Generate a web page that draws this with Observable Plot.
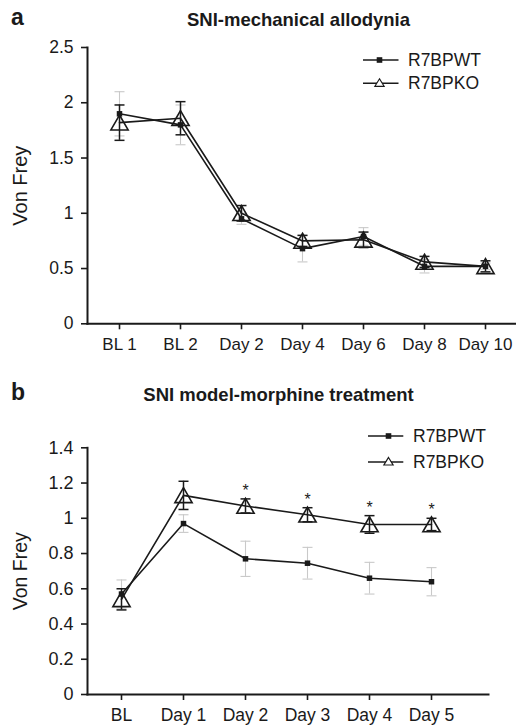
<!DOCTYPE html>
<html>
<head>
<meta charset="utf-8">
<script src="https://cdn.jsdelivr.net/npm/d3@7"></script>
<script src="https://cdn.jsdelivr.net/npm/@observablehq/plot@0.6"></script>
<style>
  html, body { margin: 0; padding: 0; background: #fff; }
  #wrap { position: relative; width: 516px; height: 726px; font-family: "Liberation Sans", Arial, Helvetica, sans-serif; color: #1a1a1a; }
  #wrap > svg { position: absolute; left: 0; }
</style>
</head>
<body>
<div id="wrap"></div>
<script>
// ---------- Panel a data ----------
const catsA = ["BL 1", "BL 2", "Day 2", "Day 4", "Day 6", "Day 8", "Day 10"];
const wtA    = [1.90, 1.80, 0.95, 0.68, 0.79, 0.52, 0.52];
const wtErrA = [0.20, 0.18, 0.05, 0.12, 0.08, 0.06, 0.03];
const koA    = [1.82, 1.86, 1.00, 0.75, 0.76, 0.56, 0.52];
const koErrA = [0.16, 0.15, 0.07, 0.05, 0.07, 0.05, 0.05];
const yTicksA = [0, 0.5, 1, 1.5, 2, 2.5];

// ---------- Panel b data ----------
const catsB = ["BL", "Day 1", "Day 2", "Day 3", "Day 4", "Day 5"];
const wtB    = [0.57, 0.97, 0.77, 0.745, 0.66, 0.64];
const wtErrB = [0.08, 0.05, 0.10, 0.09, 0.09, 0.08];
const koB    = [0.54, 1.13, 1.07, 1.02, 0.965, 0.965];
const koErrB = [0.06, 0.08, 0.04, 0.04, 0.05, 0.035];
const starsB = ["", "", "*", "*", "*", "*"];
const yTicksB = [0, 0.2, 0.4, 0.6, 0.8, 1, 1.2, 1.4];

const seriesNames = ["R7BPWT", "R7BPKO"];
const titles = ["SNI-mechanical allodynia", "SNI model-morphine treatment"];
const panelLetters = ["a", "b"];
const yLabel = "Von Frey";

const INK = "#1a1a1a";
const GREY = "#c9c9c9";
const FONT = "Liberation Sans, Arial, Helvetica, sans-serif";

// horizontal cap symbol for error bars
const capSymbol = {draw(ctx) { ctx.moveTo(-5, 0); ctx.lineTo(5, 0); }};

function rowsOf(cats, wt, wtErr, ko, koErr, stars) {
  return cats.map((c, i) => ({cat: c, wt: wt[i], wtErr: wtErr[i], ko: ko[i], koErr: koErr[i], star: stars ? stars[i] : ""}));
}

function panel(rows, cats, yDomain, yTicks, opts) {
  return Plot.plot({
    width: 516,
    height: opts.height,
    marginLeft: 87,
    marginRight: opts.marginRight,
    marginTop: opts.marginTop,
    marginBottom: opts.marginBottom,
    style: {fontFamily: FONT, fontSize: "17px", color: INK, background: "transparent", overflow: "visible"},
    x: {type: "point", domain: cats, range: opts.xRange, padding: 0},
    y: {domain: yDomain},
    marks: [
      Plot.axisX({tickSize: 6, tickPadding: 8, label: null, strokeWidth: 1.6, fontSize: opts.xFont}),
      Plot.axisY({ticks: yTicks, tickFormat: d => String(d), tickSize: 6, tickPadding: 8, label: null, strokeWidth: 1.6, fontSize: opts.yFont}),
      Plot.frame({anchor: "left", stroke: INK, strokeWidth: 2}),
      Plot.frame({anchor: "bottom", stroke: INK, strokeWidth: 2}),
      Plot.text([yLabel], {frameAnchor: "left", dx: -67, rotate: -90, textAnchor: "middle", lineAnchor: "middle", fontSize: opts.labelFont, fill: INK}),
      // WT error bars (light grey)
      Plot.ruleX(rows, {x: "cat", y1: d => d.wt - d.wtErr, y2: d => d.wt + d.wtErr, stroke: GREY, strokeWidth: 1.1}),
      Plot.dot(rows, {x: "cat", y: d => d.wt + d.wtErr, symbol: capSymbol, fill: "none", stroke: GREY, strokeWidth: 1.1}),
      Plot.dot(rows, {x: "cat", y: d => d.wt - d.wtErr, symbol: capSymbol, fill: "none", stroke: GREY, strokeWidth: 1.1}),
      // KO error bars (black)
      Plot.ruleX(rows, {x: "cat", y1: d => d.ko - d.koErr, y2: d => d.ko + d.koErr, stroke: INK, strokeWidth: 1.5}),
      Plot.dot(rows, {x: "cat", y: d => d.ko + d.koErr, symbol: capSymbol, fill: "none", stroke: INK, strokeWidth: 1.5}),
      Plot.dot(rows, {x: "cat", y: d => d.ko - d.koErr, symbol: capSymbol, fill: "none", stroke: INK, strokeWidth: 1.5}),
      // lines
      Plot.line(rows, {x: "cat", y: "wt", stroke: INK, strokeWidth: 1.6}),
      Plot.line(rows, {x: "cat", y: "ko", stroke: INK, strokeWidth: 1.6}),
      // markers
      Plot.dot(rows, {x: "cat", y: "wt", symbol: "square", r: 3.1, fill: INK, stroke: "none"}),
      Plot.dot(rows, {x: "cat", y: "ko", symbol: "triangle", r: 6.4, fill: "none", stroke: INK, strokeWidth: 1.6, dy: 2.3}),
      // significance stars
      Plot.text(rows, {x: "cat", y: d => d.ko + d.koErr, text: "star", dy: -8, fontSize: 16, fill: INK, lineAnchor: "middle"})
    ]
  });
}

const wrap = document.getElementById("wrap");

const rowsA = rowsOf(catsA, wtA, wtErrA, koA, koErrA, null);
const chartA = panel(rowsA, catsA, [0, 2.5], yTicksA, {
  height: 360, marginTop: 47, marginBottom: 36.7, marginRight: 1, xRange: [117, 486],
  xFont: 17, yFont: 17.5, labelFont: 20
});
chartA.style.top = "0px";
wrap.appendChild(chartA);

const rowsB = rowsOf(catsB, wtB, wtErrB, koB, koErrB, starsB);
const chartB = panel(rowsB, catsB, [0, 1.4], yTicksB, {
  height: 366, marginTop: 87.3, marginBottom: 32, marginRight: 28, xRange: [119, 433],
  xFont: 17.5, yFont: 18, labelFont: 19.5
});
chartB.style.top = "360px";
wrap.appendChild(chartB);

// ---------- titles, panel letters and legends (overlay) ----------
const overlay = d3.create("svg")
  .attr("width", 516).attr("height", 726)
  .style("top", "0px").style("pointer-events", "none")
  .attr("font-family", FONT).attr("fill", INK);

const titleSpecs = [
  {letterY: 25, titleX: 298.5, titleY: 25.5},
  {letterY: 400, titleX: 278.5, titleY: 400.5}
];
titleSpecs.forEach((s, i) => {
  overlay.append("text").attr("x", 11).attr("y", s.letterY)
    .attr("font-size", 23).attr("font-weight", "bold").text(panelLetters[i]);
  overlay.append("text").attr("x", s.titleX).attr("y", s.titleY)
    .attr("text-anchor", "middle").attr("font-size", 18.5).attr("font-weight", "bold").text(titles[i]);
});

const legendSpecs = [
  {rows: [60, 83.3], x1: 363, x2: 398.5, mx: 379.5, tx: 408},
  {rows: [436, 462], x1: 368, x2: 403.3, mx: 388.5, tx: 413}
];
legendSpecs.forEach(L => {
  seriesNames.forEach((name, j) => {
    const y = L.rows[j];
    const g = overlay.append("g");
    g.append("line").attr("x1", L.x1).attr("x2", L.x2).attr("y1", y).attr("y2", y)
      .attr("stroke", INK).attr("stroke-width", 1.5);
    if (j === 0) {
      g.append("rect").attr("x", L.mx - 2.8).attr("y", y - 2.8).attr("width", 5.6).attr("height", 5.6).attr("fill", INK);
    } else {
      g.append("path").attr("d", `M${L.mx},${y - 4.5}L${L.mx + 4.6},${y + 3}L${L.mx - 4.6},${y + 3}Z`)
        .attr("fill", "#fff").attr("stroke", INK).attr("stroke-width", 1.2);
    }
    g.append("text").attr("x", L.tx).attr("y", y + 6).attr("font-size", 17.5).text(name);
  });
});

wrap.appendChild(overlay.node());
</script>
</body>
</html>
